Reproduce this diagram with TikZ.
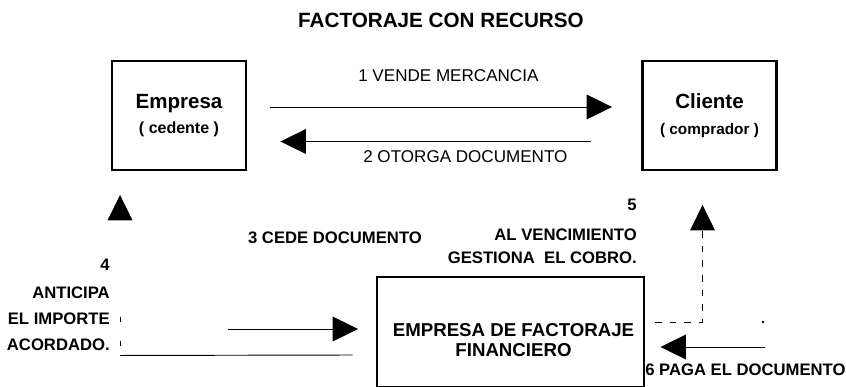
\documentclass[tikz,border=0pt]{standalone}
\usepackage{fontspec}
\setmainfont{Liberation Sans}
\usetikzlibrary{arrows.meta, calc}

\begin{document}
\begin{tikzpicture}[
  x=0.75pt, y=-0.75pt,
  party/.style={
    % The shape:
    rectangle,
    % The size:
    minimum width=100.5pt,
    minimum height=81.75pt,
    % The border:
    draw=black,
    line width=2.2pt,
    % Font
    font=\fontsize{12}{19}\selectfont\bfseries,
    align=center,
    % padding around node
    inner sep=0pt
  },
  flow/.style={line width=0.7pt, -{Triangle[length=19pt, width=18.5pt]}},
  tag/.style={font=\fontsize{12.5}{15}\selectfont\bfseries, inner sep=0pt},
  ]
  \useasboundingbox (0,0) rectangle (846,386);

  % title
  \node (title) [font=\fontsize{15.5}{18}\selectfont\bfseries] at (441,20) {FACTORAJE CON RECURSO};

  % the three parties
  \node (emp) [party] at (179,115.5) {{\fontsize{15.4}{19}\selectfont Empresa}\\( cedente )};
  \node (cli) [party] at (709.5,115.5) {{\fontsize{15.4}{19}\selectfont Cliente}\\{\fontsize{11.5}{19}\selectfont ( comprador )}};
  \node (fac) [party, minimum width=200.25pt, minimum height=82.5pt] at (510.5,332) {};
  \node (facname) [font=\fontsize{14}{15}\selectfont\bfseries, align=center] at ($(fac.center)+(3,8)$) {EMPRESA DE FACTORAJE\\FINANCIERO};

  % 1 and 2: sale and document
  \draw [flow] ($(emp.east)+(23,-8.5)$) -- ($(cli.west)+(-29,-8.5)$);
  \draw [flow] ($(cli.west)+(-50,26)$) -- ($(emp.east)+(33,26)$);
  \node (l1) [tag, font=\fontsize{12.8}{15}\selectfont, anchor=west] at (358,76) {1 VENDE MERCANCIA};
  \node (l2) [tag, font=\fontsize{12.8}{15}\selectfont, anchor=west] at (363,157) {2 OTORGA DOCUMENTO};

  % 3: document goes to the factoring company
  \coordinate (s3) at ($(fac.west)+(-148,-3)$);
  \draw [flow] (s3) -- ($(fac.west)+(-17.5,-3)$);
  \node (l3) [tag] at (335,238) {3 CEDE DOCUMENTO};

  % 4: advance back to Empresa
  \coordinate (c4) at ($(emp.south west)+(9.5,184)$);
  \draw [line width=0.7pt] ($(fac.west)+(-23,23)$) -- (c4);
  \draw [flow, dash pattern=on 4pt off 14pt on 4pt off 14pt on 4pt off 200pt, dash phase=11pt] (c4) -- ($(emp.south west)+(9.5,23.5)$);
  \node (l4) [tag, font=\fontsize{12.5}{19.5}\selectfont\bfseries, align=right, anchor=north east] at (110,259) {4\\[1.5pt]ANTICIPA\\EL IMPORTE\\ACORDADO.};

  % 5: collection at maturity
  \draw [flow, dash pattern=on 5pt off 6pt] ($(fac.east)+(9.5,-10)$) -| ($(cli.south west)+(61.5,33.5)$);
  \node (l5) [tag, font=\fontsize{12.5}{17.25}\selectfont\bfseries, align=right, anchor=north east] at (637,199) {5\\[5.25pt]AL VENCIMIENTO\\GESTIONA\ \ EL COBRO.};
  \coordinate (speck) at (763,322);
  \fill (speck) circle (1.1pt);

  % 6: payment
  \draw [flow] ($(fac.east)+(120,15)$) -- ($(fac.east)+(15,15)$);
  \node (l6) [tag, anchor=west] at (645,370) {6 PAGA EL DOCUMENTO};

\end{tikzpicture}
\end{document}
